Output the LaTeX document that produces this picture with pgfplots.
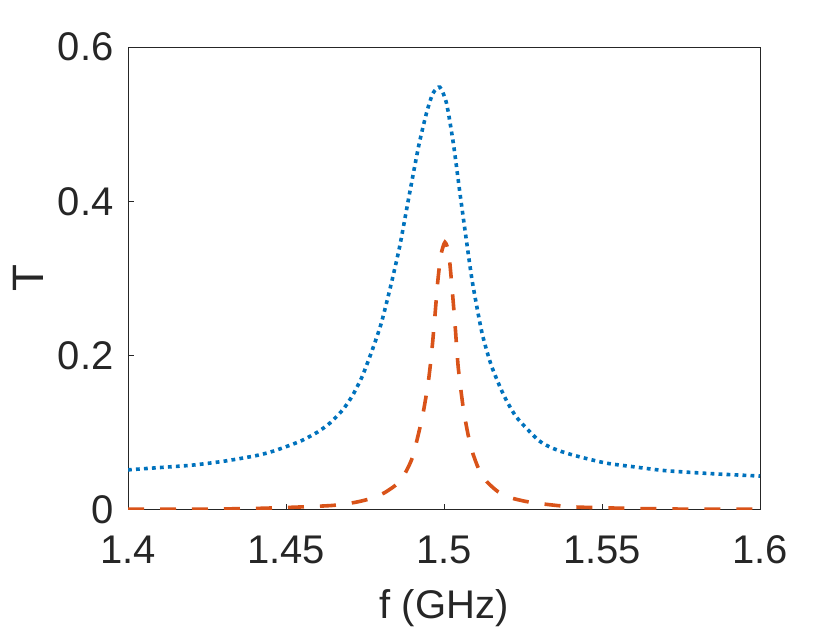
\documentclass[border=0pt]{standalone}
\usepackage{fontspec}
\setmainfont{Liberation Sans}
\usepackage{pgfplots}
\pgfplotsset{compat=1.18}
\definecolor{mblue}{rgb}{0,0.447,0.741}
\definecolor{morange}{rgb}{0.85,0.325,0.098}
\definecolor{axgray}{rgb}{0.15,0.15,0.15}

\pgfplotstableread{
f T
1.400 0.052
1.410 0.055
1.420 0.058
1.430 0.063
1.440 0.070
1.445 0.075
1.450 0.082
1.455 0.090
1.460 0.101
1.464 0.113
1.468 0.130
1.471 0.148
1.474 0.172
1.477 0.204
1.480 0.240
1.483 0.288
1.486 0.342
1.489 0.408
1.492 0.472
1.4945 0.515
1.4965 0.540
1.4987 0.548
1.5008 0.527
1.503 0.474
1.505 0.412
1.507 0.352
1.509 0.295
1.512 0.230
1.515 0.187
1.519 0.148
1.523 0.120
1.530 0.090
1.535 0.079
1.541 0.071
1.551 0.061
1.560 0.056
1.570 0.051
1.585 0.047
1.600 0.044
}\blueT

\pgfplotstableread{
f T
1.400 0.001
1.420 0.001
1.440 0.002
1.455 0.004
1.465 0.006
1.472 0.010
1.477 0.015
1.481 0.022
1.484 0.030
1.486 0.037
1.488 0.050
1.490 0.068
1.492 0.100
1.4935 0.128
1.495 0.165
1.496 0.200
1.497 0.245
1.498 0.295
1.499 0.330
1.5003 0.347
1.5015 0.333
1.5025 0.290
1.5035 0.240
1.5045 0.185
1.506 0.135
1.5075 0.100
1.509 0.075
1.511 0.053
1.5135 0.037
1.517 0.024
1.521 0.016
1.526 0.011
1.531 0.008
1.541 0.004
1.560 0.002
1.580 0.001
1.600 0.001
}\redT

\begin{document}
\begin{tikzpicture}
\path[use as bounding box] (-64pt,-60pt) rectangle (356pt,255pt);
\begin{axis}[
  at={(0,0)}, anchor=south west,
  scale only axis, width=316pt, height=231.5pt,
  xmin=1.4, xmax=1.6, ymin=0, ymax=0.6,
  xtick={1.4,1.45,1.5,1.55,1.6}, ytick={0,0.2,0.4,0.6},
  xticklabels={1.4,1.45,1.5,1.55,1.6}, yticklabels={0,0.2,0.4,0.6},
  tick align=inside, xtick pos=bottom, ytick pos=left,
  major tick length=3pt,
  axis line style={axgray, line width=0.5pt},
  tick style={axgray, line width=0.5pt},
  ticklabel style={font=\fontsize{20}{24}\selectfont, text=axgray, inner sep=0pt},
  xticklabel style={anchor=base, yshift=-27pt},
  yticklabel style={anchor=east, xshift=-7pt},
  xlabel={f (GHz)}, ylabel={T},
  xlabel style={font=\fontsize{20}{24}\selectfont, text=axgray, at={(axis description cs:0.5,-0.2333)}, anchor=base, inner sep=0pt},
  ylabel style={font=\fontsize{22}{26}\selectfont, text=axgray, at={(axis description cs:-0.157,0.5)}, anchor=center, rotate=0},
]
\addplot[mblue, line width=1.8pt, line cap=butt, dash pattern=on 1.9pt off 2.1pt, smooth, tension=0.4] table[x=f,y=T] {\blueT};
\addplot[morange, line width=1.8pt, line cap=butt, dash pattern=on 8pt off 8pt, smooth, tension=0.4] table[x=f,y=T] {\redT};
\end{axis}
\end{tikzpicture}
\end{document}
